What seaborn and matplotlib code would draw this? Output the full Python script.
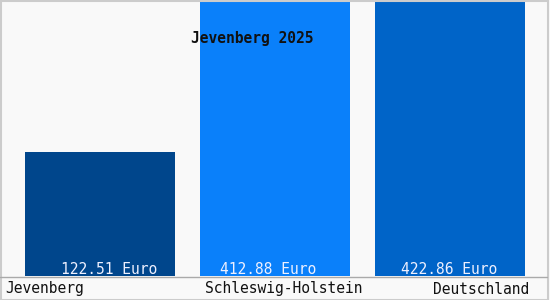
import matplotlib
matplotlib.use("Agg")
import matplotlib.pyplot as plt
import seaborn as sns
import pandas as pd

categories = ["Jevenberg", "Schleswig-Holstein", "Deutschland"]
values = [122.51, 412.88, 422.86]
value_labels = ["122.51 Euro", "412.88 Euro", "422.86 Euro"]
colors = ["#00468c", "#0a80fa", "#0064c8"]
title = "Jevenberg 2025"

sns.set_theme(style="white")
plt.rcParams["font.family"] = ["DejaVu Sans Mono"]

df = pd.DataFrame({"cat": categories, "val": values})

W, H = 550, 300
fig = plt.figure(figsize=(W / 100, H / 100), dpi=100)
fig.patch.set_facecolor("#f9f9f9")
ax = fig.add_axes([0, 24 / H, 1, 276 / H])
ax.set_facecolor("#f9f9f9")

sns.barplot(data=df, x="cat", y="val", hue="cat", palette=colors,
            width=150 / 175, dodge=False, legend=False, ax=ax, saturation=1,
            linewidth=0, edgecolor="none")

ax.set_xlim(-100 / 175, (W - 100) / 175)
ax.set_ylim(0, 122.51 * 276 / 124)
ax.set_xlabel("")
ax.set_ylabel("")
ax.set_xticks([])
ax.set_yticks([])
for s in ax.spines.values():
    s.set_visible(False)

# value labels inside bars (pixel offsets from bar centre)
label_dx = [9, -7, -1]
for i, lab in enumerate(value_labels):
    ax.text(i + label_dx[i] / 175, 1.5, lab, ha="center", va="baseline",
            color="#eef0ff", fontsize=10.5)

fig.text(252 / W, 1 - 38 / H, title, ha="center", va="center",
         fontsize=10.5, color="#111111", fontweight="bold")

fig.text(5 / W, 1 - 289 / H, categories[0], ha="left", va="center", fontsize=10.5, color="#111111")
fig.text(205 / W, 1 - 289 / H, categories[1], ha="left", va="center", fontsize=10.5, color="#111111")
fig.text(529 / W, 1 - 289 / H, categories[2], ha="right", va="center", fontsize=10.5, color="#111111")

fig.add_artist(plt.Line2D([0, 547 / W], [1 - 276.5 / H, 1 - 276.5 / H], color="#aaaaaa", lw=1))
fig.add_artist(plt.Rectangle((0.5 / W, 0.5 / H), 547 / W, 298.5 / H, fill=False,
                             edgecolor="#cccccc", lw=1.5))

fig.savefig("out.png", dpi=100, facecolor=fig.get_facecolor())
